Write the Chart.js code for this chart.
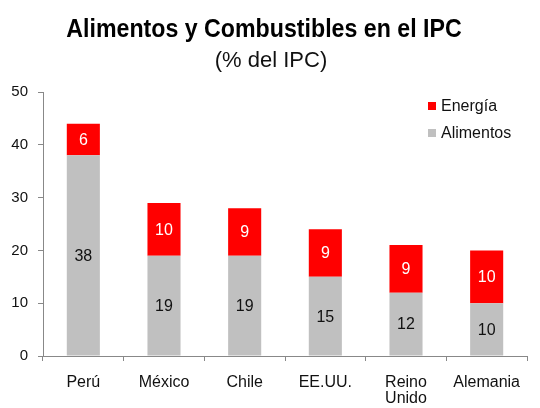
<!DOCTYPE html>
<html>
<head>
<meta charset="utf-8">
<script src="https://cdn.jsdelivr.net/npm/chart.js@4/dist/chart.umd.min.js"></script>
<style>
  html, body { margin: 0; padding: 0; background: #fff; }
  #wrap { width: 540px; height: 408px; }
</style>
</head>
<body>
<div id="wrap"><canvas id="ipcChart" width="540" height="408"></canvas></div>
<script>
const paises = ["Perú", "México", "Chile", "EE.UU.", ["Reino", "Unido"], "Alemania"];
const alimentos = [38, 19, 19, 15, 12, 10];
const energia = [6, 10, 9, 9, 9, 10];
const yTicks = [0, 10, 20, 30, 40, 50];

const FONT = "'Liberation Sans', Arial, sans-serif";

// title is a bit condensed, so it is drawn by hand with a horizontal squeeze
const headline = {
  id: "headline",
  afterDraw(chart) {
    const { ctx } = chart;
    ctx.save();
    ctx.fillStyle = "#000";
    ctx.textAlign = "center";
    ctx.textBaseline = "alphabetic";
    ctx.font = "bold 25px " + FONT;
    ctx.translate(264, 37);
    ctx.scale(0.927, 1);
    ctx.fillText("Alimentos y Combustibles en el IPC", 0, 0);
    ctx.restore();

    ctx.save();
    ctx.fillStyle = "#111";
    ctx.textAlign = "center";
    ctx.font = "22px " + FONT;
    ctx.fillText("(% del IPC)", 271, 67);
    ctx.restore();
  },
};

// numbers centred in each stacked segment
const segmentLabels = {
  id: "segmentLabels",
  afterDatasetsDraw(chart) {
    const { ctx } = chart;
    ctx.save();
    ctx.font = "16px " + FONT;
    ctx.textAlign = "center";
    ctx.textBaseline = "middle";
    chart.data.datasets.forEach((ds, i) => {
      chart.getDatasetMeta(i).data.forEach((bar, j) => {
        const mid = (bar.y + bar.base) / 2;
        ctx.fillStyle = ds.labelColor;
        ctx.fillText(String(ds.data[j]), bar.x, mid + 1);
      });
    });
    ctx.restore();
  },
};

// small legend in the upper right of the plot, Energía on top
const cornerLegend = {
  id: "cornerLegend",
  afterDraw(chart) {
    const { ctx, chartArea } = chart;
    const x = chartArea.right - 99;
    let y = chartArea.top + 14;
    ctx.save();
    ctx.font = "16px " + FONT;
    ctx.textBaseline = "middle";
    [...chart.data.datasets].reverse().forEach((ds) => {
      ctx.fillStyle = ds.backgroundColor;
      ctx.fillRect(x, y - 4, 8, 8);
      ctx.fillStyle = "#111";
      ctx.fillText(ds.label, x + 13, y + 1);
      y += 27;
    });
    ctx.restore();
  },
};

new Chart(document.getElementById("ipcChart"), {
  type: "bar",
  data: {
    labels: paises,
    datasets: [
      {
        label: "Alimentos",
        data: alimentos,
        backgroundColor: "#c0c0c0",
        labelColor: "#111",
        barPercentage: 0.41,
        categoryPercentage: 1,
      },
      {
        label: "Energía",
        data: energia,
        backgroundColor: "#ff0000",
        labelColor: "#fff",
        barPercentage: 0.41,
        categoryPercentage: 1,
      },
    ],
  },
  options: {
    responsive: false,
    animation: false,
    layout: { padding: { left: 0, right: 13, top: 92, bottom: 0 } },
    plugins: {
      legend: { display: false },
      tooltip: { enabled: false },
    },
    scales: {
      x: {
        stacked: true,
        afterFit: (axis) => { axis.height = 52; },
        grid: { offset: true, drawOnChartArea: false, drawTicks: true, tickLength: 5, color: "#888" },
        border: { color: "#888" },
        ticks: {
          color: "#111",
          font: { family: FONT, size: 16, lineHeight: 1.0 },
          padding: 14,
          maxRotation: 0,
        },
      },
      y: {
        stacked: true,
        min: 0,
        max: 50,
        afterBuildTicks: (axis) => { axis.ticks = yTicks.map((v) => ({ value: v })); },
        afterFit: (axis) => { axis.width = 43; },
        grid: { drawOnChartArea: false, drawTicks: true, tickLength: 5, color: "#888" },
        border: { color: "#888" },
        ticks: { color: "#111", font: { family: FONT, size: 15 }, padding: 10 },
      },
    },
  },
  plugins: [headline, segmentLabels, cornerLegend],
});
</script>
</body>
</html>
